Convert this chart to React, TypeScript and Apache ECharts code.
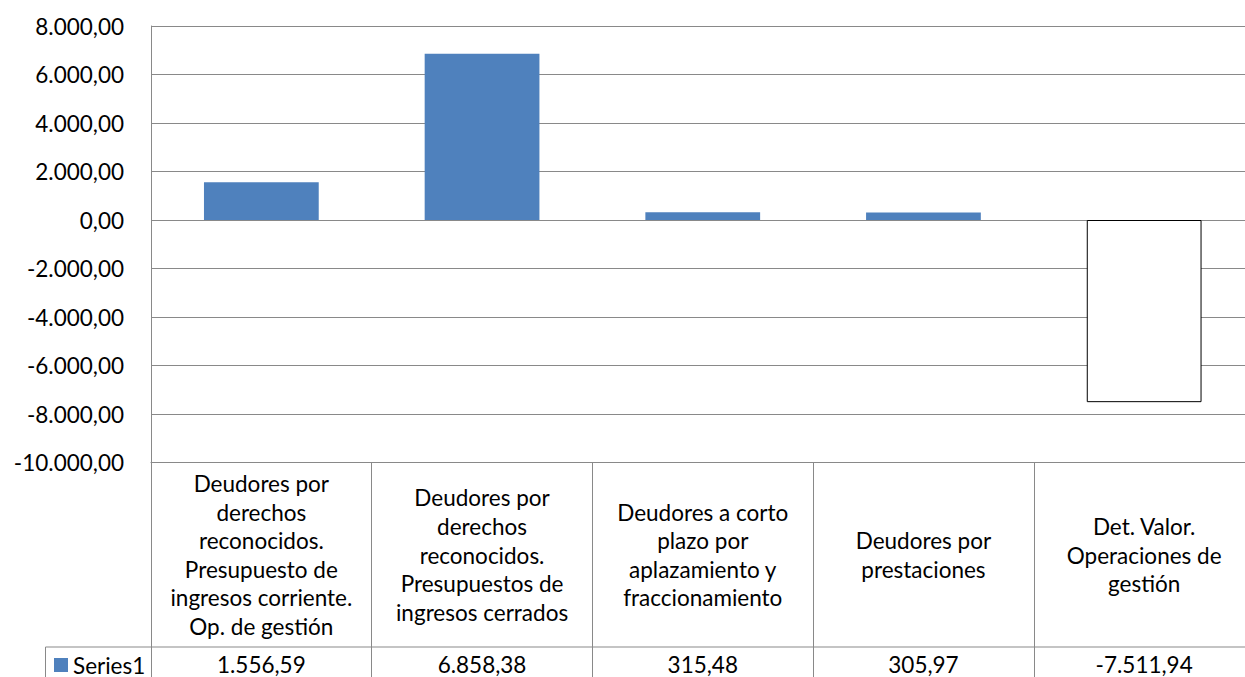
import React, { useEffect, useRef } from "react";
import * as echarts from "echarts";

const categories: string[] = [
  "Deudores por\nderechos\nreconocidos.\nPresupuesto de\ningresos corriente.\nOp. de gestión",
  "Deudores por\nderechos\nreconocidos.\nPresupuestos de\ningresos cerrados",
  "Deudores a corto\nplazo por\naplazamiento y\nfraccionamiento",
  "Deudores por\nprestaciones",
  "Det. Valor.\nOperaciones de\ngestión",
];
const seriesName = "Series1";
const values: number[] = [1556.59, 6858.38, 315.48, 305.97, -7511.94];
const yMin = -10000;
const yMax = 8000;
const yStep = 2000;

const FONT = "Lato";
const FS = 22.5;
const GRID = "#898989";

function fmt(v: number): string {
  const neg = v < 0;
  const a = Math.abs(v);
  const fixed = a.toFixed(2);
  const [ip, dp] = fixed.split(".");
  const withDots = ip.replace(/\B(?=(\d{3})+(?!\d))/g, ".");
  return (neg ? "-" : "") + withDots + "," + dp;
}

export default function App() {
  const ref = useRef<HTMLDivElement>(null);
  useEffect(() => {
    if (!ref.current) return;
    const chart = echarts.init(ref.current, undefined, { renderer: "svg" });
    const textBase = { fontFamily: FONT, fontSize: FS, color: "#000" };
    chart.setOption({
      animation: false,
      backgroundColor: "#fff",
      textStyle: { fontFamily: FONT },
      grid: { left: 151, right: 5.5, top: 26, bottom: 214.5, containLabel: false },
      legend: {
        data: [seriesName],
        left: 54,
        top: 653,
        padding: 0,
        icon: "rect",
        itemWidth: 14,
        itemHeight: 14,
        textStyle: { ...textBase, lineHeight: 24 },
        selectedMode: false,
      },
      xAxis: [
        {
          type: "category",
          data: categories,
          position: "bottom",
          axisLine: { show: true, onZero: false, lineStyle: { color: GRID, width: 1 } },
          axisTick: { show: true, length: 220, interval: 0, lineStyle: { color: GRID, width: 1 } },
          axisLabel: {
            ...textBase,
            interval: 0,
            margin: 92.5,
            verticalAlign: "middle",
            align: "center",
            lineHeight: 28.6,
          },
          splitLine: { show: false },
        },
        {
          type: "category",
          data: values.map(fmt),
          position: "bottom",
          axisLine: { show: false, onZero: false },
          axisTick: { show: false },
          axisLabel: {
            ...textBase,
            interval: 0,
            margin: 201.5,
            verticalAlign: "middle",
            align: "center",
            lineHeight: 22,
          },
          splitLine: { show: false },
        },
      ],
      yAxis: {
        type: "value",
        min: yMin,
        max: yMax,
        interval: yStep,
        axisLine: { show: true, lineStyle: { color: GRID, width: 1 } },
        axisTick: { show: false },
        axisLabel: { ...textBase, margin: 27, formatter: (v: number) => fmt(v) },
        splitLine: { show: true, lineStyle: { color: GRID, width: 1 } },
      },
      graphic: [
        { type: "line", shape: { x1: 45.5, y1: 647, x2: 1260, y2: 647 }, style: { stroke: GRID, lineWidth: 1 }, z: 10 },
        { type: "line", shape: { x1: 45.5, y1: 647, x2: 45.5, y2: 690 }, style: { stroke: GRID, lineWidth: 1 }, z: 10 },
      ],
      series: [
        {
          name: seriesName,
          type: "bar",
          xAxisIndex: 0,
          barWidth: "52%",
          itemStyle: { color: "#4F81BD" },
          data: values.map((v) =>
            v < 0
              ? { value: v, itemStyle: { color: "#FFFFFF", borderColor: "#000", borderWidth: 1 } }
              : { value: v }
          ),
        },
      ],
    });
    return () => chart.dispose();
  }, []);
  return (
    <div
      ref={ref}
      style={{ position: "fixed", left: 0, top: 0, width: 1260, height: 677, background: "#fff" }}
    />
  );
}
